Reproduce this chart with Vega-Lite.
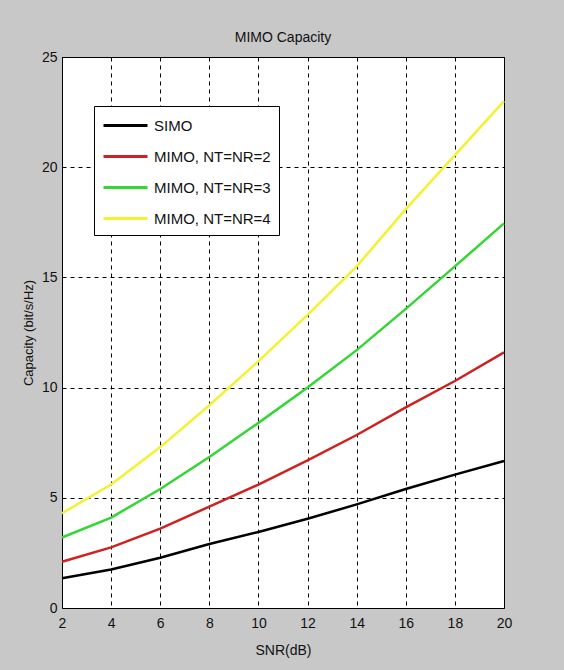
{
  "$schema": "https://vega.github.io/schema/vega-lite/v6.json",
  "width": 442,
  "height": 551,
  "autosize": {"type": "none"},
  "padding": {"left": 62, "top": 57, "right": 60, "bottom": 62},
  "background": "#c8c8c8",
  "title": {"text": "MIMO Capacity", "font": "Liberation Sans", "fontSize": 14, "fontWeight": "normal", "color": "#111111", "offset": 5},
  "config": {
    "view": {"fill": "white", "stroke": "black", "strokeWidth": 1},
    "font": "Liberation Sans"
  },
  "data": {
    "values": [
      {"snr": 2, "cap": 1.35, "series": "SIMO"},
      {"snr": 4, "cap": 1.75, "series": "SIMO"},
      {"snr": 6, "cap": 2.28, "series": "SIMO"},
      {"snr": 8, "cap": 2.9, "series": "SIMO"},
      {"snr": 10, "cap": 3.45, "series": "SIMO"},
      {"snr": 12, "cap": 4.05, "series": "SIMO"},
      {"snr": 14, "cap": 4.7, "series": "SIMO"},
      {"snr": 16, "cap": 5.4, "series": "SIMO"},
      {"snr": 18, "cap": 6.05, "series": "SIMO"},
      {"snr": 20, "cap": 6.67, "series": "SIMO"},
      {"snr": 2, "cap": 2.1, "series": "MIMO, NT=NR=2"},
      {"snr": 4, "cap": 2.75, "series": "MIMO, NT=NR=2"},
      {"snr": 6, "cap": 3.6, "series": "MIMO, NT=NR=2"},
      {"snr": 8, "cap": 4.6, "series": "MIMO, NT=NR=2"},
      {"snr": 10, "cap": 5.6, "series": "MIMO, NT=NR=2"},
      {"snr": 12, "cap": 6.7, "series": "MIMO, NT=NR=2"},
      {"snr": 14, "cap": 7.85, "series": "MIMO, NT=NR=2"},
      {"snr": 16, "cap": 9.1, "series": "MIMO, NT=NR=2"},
      {"snr": 18, "cap": 10.3, "series": "MIMO, NT=NR=2"},
      {"snr": 20, "cap": 11.6, "series": "MIMO, NT=NR=2"},
      {"snr": 2, "cap": 3.2, "series": "MIMO, NT=NR=3"},
      {"snr": 4, "cap": 4.1, "series": "MIMO, NT=NR=3"},
      {"snr": 6, "cap": 5.4, "series": "MIMO, NT=NR=3"},
      {"snr": 8, "cap": 6.85, "series": "MIMO, NT=NR=3"},
      {"snr": 10, "cap": 8.4, "series": "MIMO, NT=NR=3"},
      {"snr": 12, "cap": 10.0, "series": "MIMO, NT=NR=3"},
      {"snr": 14, "cap": 11.7, "series": "MIMO, NT=NR=3"},
      {"snr": 16, "cap": 13.57, "series": "MIMO, NT=NR=3"},
      {"snr": 18, "cap": 15.5, "series": "MIMO, NT=NR=3"},
      {"snr": 20, "cap": 17.45, "series": "MIMO, NT=NR=3"},
      {"snr": 2, "cap": 4.3, "series": "MIMO, NT=NR=4"},
      {"snr": 4, "cap": 5.6, "series": "MIMO, NT=NR=4"},
      {"snr": 6, "cap": 7.3, "series": "MIMO, NT=NR=4"},
      {"snr": 8, "cap": 9.2, "series": "MIMO, NT=NR=4"},
      {"snr": 10, "cap": 11.2, "series": "MIMO, NT=NR=4"},
      {"snr": 12, "cap": 13.3, "series": "MIMO, NT=NR=4"},
      {"snr": 14, "cap": 15.5, "series": "MIMO, NT=NR=4"},
      {"snr": 16, "cap": 18.1, "series": "MIMO, NT=NR=4"},
      {"snr": 18, "cap": 20.55, "series": "MIMO, NT=NR=4"},
      {"snr": 20, "cap": 23.0, "series": "MIMO, NT=NR=4"}
    ]
  },
  "mark": {"type": "line", "strokeWidth": 2.5},
  "encoding": {
    "x": {
      "field": "snr", "type": "quantitative",
      "scale": {"domain": [2, 20], "nice": false, "zero": false},
      "axis": {
        "title": "SNR(dB)", "values": [2, 4, 6, 8, 10, 12, 14, 16, 18, 20],
        "grid": true, "gridColor": "black", "gridDash": [4, 4], "gridOpacity": 1, "gridWidth": 1,
        "ticks": false, "domain": false,
        "labelFontSize": 14, "labelColor": "#111111", "labelPadding": 8, "labelFlush": false,
        "titleFontSize": 14, "titleFontWeight": "normal", "titleColor": "#111111", "titlePadding": 13
      }
    },
    "y": {
      "field": "cap", "type": "quantitative",
      "scale": {"domain": [0, 25], "nice": false},
      "axis": {
        "title": "Capacity (bit/s/Hz)", "values": [0, 5, 10, 15, 20, 25],
        "grid": true, "gridColor": "black", "gridDash": [4, 4], "gridOpacity": 1, "gridWidth": 1,
        "ticks": false, "domain": false,
        "labelFontSize": 14, "labelColor": "#111111", "labelPadding": 5, "labelFlush": false,
        "titleFontSize": 13, "titleFontWeight": "normal", "titleColor": "#111111", "titlePadding": 6
      }
    },
    "color": {
      "field": "series", "type": "nominal",
      "scale": {
        "domain": ["SIMO", "MIMO, NT=NR=2", "MIMO, NT=NR=3", "MIMO, NT=NR=4"],
        "range": ["#000000", "#d02020", "#33d633", "#f2f230"]
      },
      "legend": {
        "title": null, "orient": "none", "legendX": 32, "legendY": 49,
        "symbolType": "M-1,0H3.4", "symbolSize": 400, "symbolStrokeWidth": 3,
        "labelFontSize": 15, "labelColor": "#111111", "labelOffset": 29,
        "fillColor": "white", "strokeColor": "black", "padding": 8,
        "rowPadding": 11, "labelLimit": 200
      }
    }
  }
}
